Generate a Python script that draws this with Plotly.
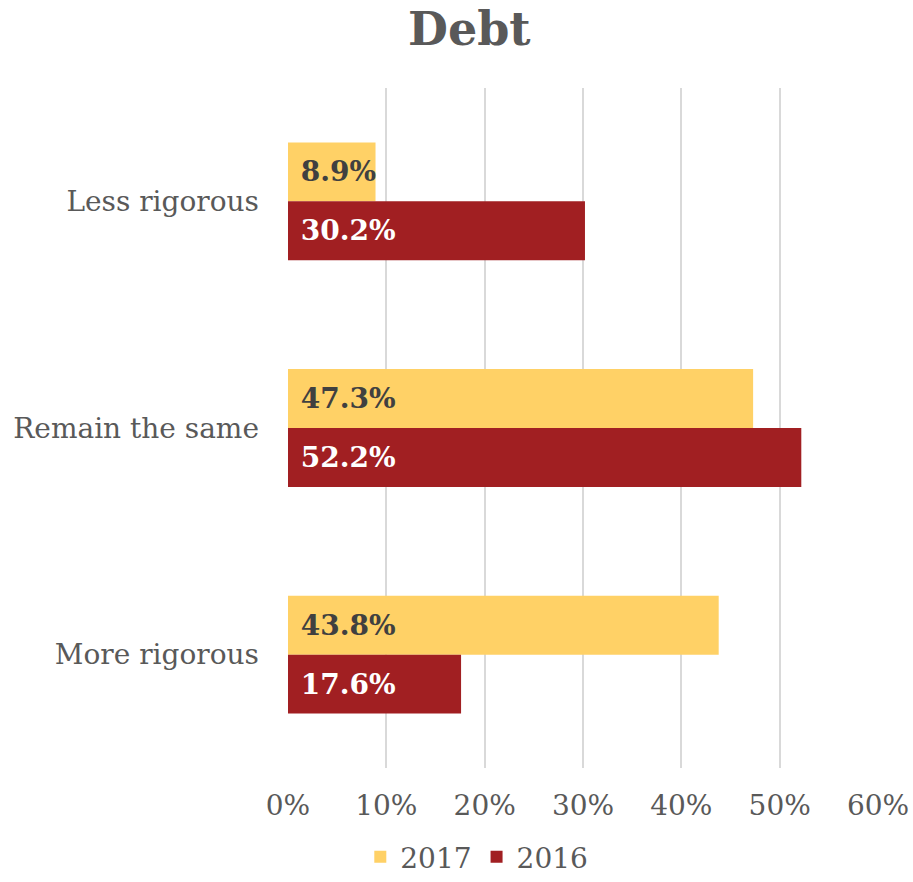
import plotly.graph_objects as go

categories = ["Less rigorous", "Remain the same", "More rigorous"]
values_2017 = [8.9, 47.3, 43.8]
values_2016 = [30.2, 52.2, 17.6]
tick_vals = [0, 10, 20, 30, 40, 50, 60]
tick_text = ["0%", "10%", "20%", "30%", "40%", "50%", "60%"]

FONT = "Georgia, 'DejaVu Serif', serif"
GRAY = "#595959"

fig = go.Figure()
fig.add_trace(go.Bar(
    name="2017", y=categories, x=values_2017, orientation="h",
    marker=dict(color="#FFD166", line=dict(width=0)),
    text=[f"{v:.1f}%" for v in values_2017],
    texttemplate="&nbsp;%{text}",
    textposition="inside", insidetextanchor="start", constraintext="none",
    textfont=dict(family=FONT, size=28, color="#404040", weight="bold"),
    hoverinfo="skip",
))
fig.add_trace(go.Bar(
    name="2016", y=categories, x=values_2016, orientation="h",
    marker=dict(color="#A11F22", line=dict(width=0)),
    text=[f"{v:.1f}%" for v in values_2016],
    texttemplate="&nbsp;%{text}",
    textposition="inside", insidetextanchor="start", constraintext="none",
    textfont=dict(family=FONT, size=28, color="white", weight="bold"),
    hoverinfo="skip",
))

fig.update_layout(
    width=913, height=882,
    margin=dict(l=288, r=35, t=88, b=114),
    paper_bgcolor="white", plot_bgcolor="white",
    barmode="group", bargap=0.48, bargroupgap=0,
    title=dict(text="<b>Debt</b>", x=0.514, xanchor="center", y=0.967, yanchor="middle",
               font=dict(family=FONT, size=46, color=GRAY)),
    font=dict(family=FONT, color=GRAY),
    xaxis=dict(range=[0, 60], tickvals=tick_vals, ticktext=tick_text,
               showgrid=True, gridcolor="#D9D9D9", gridwidth=2,
               zeroline=False, showline=False, ticks="", ticklabelstandoff=18,
               tickfont=dict(family=FONT, size=28, color=GRAY), fixedrange=True,
               automargin=False),
    yaxis=dict(categoryorder="array", categoryarray=categories, autorange="reversed",
               showgrid=False, zeroline=False, showline=False, ticks="",
               ticklabelstandoff=28, automargin=False,
               tickfont=dict(family=FONT, size=28, color=GRAY), fixedrange=True),
    legend=dict(orientation="h", x=0.32, xanchor="center",
                yref="container", y=0.0, yanchor="bottom",
                font=dict(family=FONT, size=28, color=GRAY), itemwidth=30,
                traceorder="normal"),
    showlegend=True,
)

fig.write_html("out.html")
